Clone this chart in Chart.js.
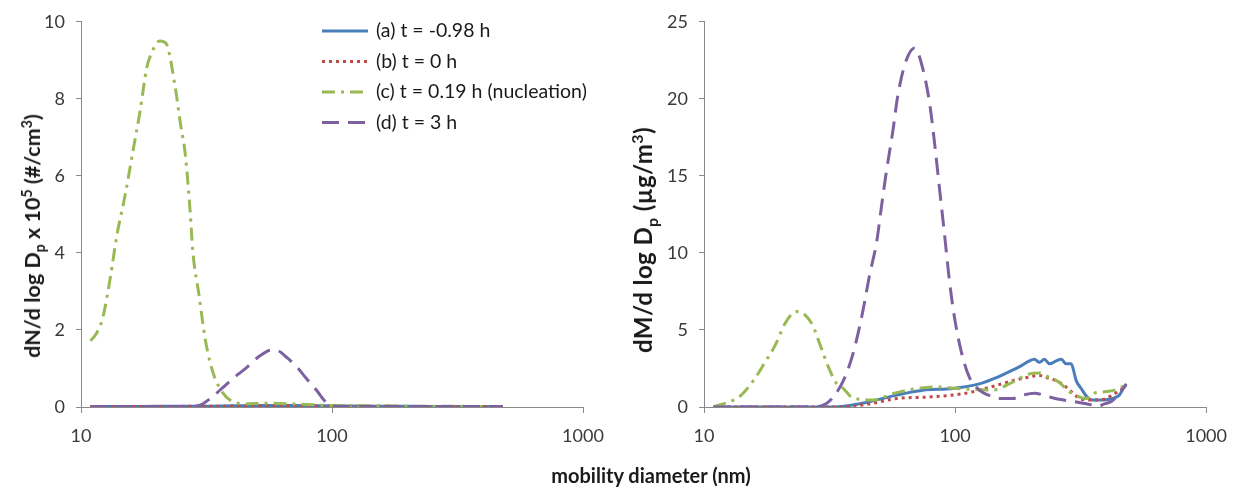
<!DOCTYPE html>
<html>
<head>
<meta charset="utf-8">
<script src="https://cdn.jsdelivr.net/npm/chart.js@4.4.1/dist/chart.umd.min.js"></script>
<style>
  body { margin: 0; background: #fff; }
  #wrap { position: relative; width: 1239px; height: 496px; font-family: Lato, "Open Sans", sans-serif; color: #1a1a1a; }
  #leftChart { position: absolute; left: 0; top: 0; }
  #rightChart { position: absolute; left: 620px; top: 0; }
  .ytitle { position: absolute; transform: translate(-50%, -50%) rotate(-90deg); white-space: nowrap; font-weight: bold; line-height: 22px; }
  .ytitle sub, .ytitle sup { font-size: 66%; line-height: 0; }
  #ytitleN { left: 32px; top: 236px; font-size: 21.5px; }
  #ytitleM { left: 643px; top: 240px; font-size: 24px; letter-spacing: 0.4px; }
  #xtitle { position: absolute; left: 651px; top: 475px; transform: translate(-50%, -50%); white-space: nowrap; font-weight: bold; font-size: 20px; }
</style>
</head>
<body>
<div id="wrap">
  <canvas id="leftChart" width="620" height="470"></canvas>
  <canvas id="rightChart" width="619" height="470"></canvas>
  <div class="ytitle" id="ytitleN">dN/d log D<sub>p</sub> x 10<sup>5</sup> (#/cm<sup>3</sup>)</div>
  <div class="ytitle" id="ytitleM">dM/d log D<sub>p</sub> (µg/m<sup>3</sup>)</div>
  <div id="xtitle">mobility diameter (nm)</div>
</div>
<script>
// series names
const seriesLabels = ["(a) t = -0.98 h", "(b) t = 0 h", "(c) t = 0.19 h (nucleation)", "(d) t = 3 h"];

// tick labels
const xTicks = [10, 100, 1000];
const yTicksN = [0, 2, 4, 6, 8, 10];
const yTicksM = [0, 5, 10, 15, 20, 25];

// number distribution, dN/dlogDp x 10^5 (#/cm3)
const nDiamA = [10.9, 15, 20, 30, 40, 50, 70, 100, 150, 200, 300, 400, 480];
const nA = [0.01, 0.01, 0.02, 0.02, 0.03, 0.04, 0.04, 0.03, 0.02, 0.02, 0.01, 0.01, 0.01];
const nDiamB = [10.9, 15, 20, 30, 40, 50, 70, 100, 150, 200, 300, 400, 480];
const nB = [0.01, 0.01, 0.01, 0.02, 0.02, 0.03, 0.03, 0.02, 0.02, 0.01, 0.01, 0.01, 0.0];
const nDiamC = [10.9, 11.5, 12.2, 13.1, 13.9, 15.0, 16.1, 17.2, 18.3, 19.3, 20.1, 20.6, 21.8, 23.7, 25.0, 26.0, 27.2, 27.9, 29.5, 31.2,
  32.7, 34.2, 36.8, 39.2, 45, 55, 70, 90, 120, 160, 220, 300, 400, 480];
const nC = [1.72, 1.9, 2.31, 3.38, 4.46, 5.51, 6.64, 7.69, 8.82, 9.25, 9.46, 9.5, 9.44, 8.33, 7.28, 6.59, 5.10, 4.03, 2.92, 1.79,
  1.15, 0.74, 0.36, 0.18, 0.08, 0.1, 0.08, 0.05, 0.03, 0.03, 0.02, 0.02, 0.01, 0.01];
const nDiamD = [10.9, 15, 20, 25, 27.2, 29.8, 33.3, 36.8, 40.3, 45.8, 51.6, 57.7, 61.0, 66.2, 72.6, 79.5, 87.1, 93.8, 100, 120,
  160, 220, 300, 400, 480];
const nD = [0.01, 0.01, 0.01, 0.01, 0.01, 0.05, 0.26, 0.51, 0.74, 1.03, 1.33, 1.48, 1.46, 1.28, 1.03, 0.72, 0.42, 0.15, 0.02, 0.01,
  0.01, 0.01, 0.01, 0.01, 0.01];

// mass distribution, dM/dlogDp (ug/m3)
const mDiamA = [10.9, 20, 31.7, 38.0, 45.7, 58.5, 74.3, 97.7, 125, 146, 160, 180, 198, 207, 217, 227, 238, 253, 265, 277,
  290, 304, 318, 336, 352, 386, 423, 451, 472, 480];
const mA = [0, 0, 0, 0.1, 0.34, 0.77, 1.09, 1.2, 1.5, 1.9, 2.2, 2.6, 3.0, 3.1, 2.9, 3.1, 2.8, 3.0, 3.1, 2.8,
  2.8, 1.7, 1.2, 0.65, 0.45, 0.45, 0.55, 0.77, 1.3, 1.4];
const mDiamB = [10.9, 20, 34.7, 45.7, 58.5, 79.2, 111, 125, 146, 169, 198, 217, 233, 253, 272, 290, 307, 333, 376, 423,
  455, 480];
const mB = [0, 0, 0, 0.2, 0.55, 0.65, 0.9, 1.1, 1.4, 1.7, 1.95, 2.05, 1.9, 1.7, 1.4, 1.0, 0.65, 0.45, 0.45, 0.77,
  1.1, 1.3];
const mDiamC = [10.9, 13.9, 15.7, 17.5, 19.2, 21.0, 22.6, 23.7, 25.2, 27.1, 28.9, 31.1, 33.8, 35.4, 39.1, 47.0, 57.4, 70.3, 85.2, 101,
  141, 169, 198, 217, 238, 260, 280, 299, 333, 359, 400, 451, 481];
const mC = [0, 0.7, 1.7, 2.9, 4.0, 5.4, 6.1, 6.2, 6.0, 5.3, 4.1, 2.7, 1.5, 1.3, 0.6, 0.45, 0.9, 1.2, 1.3, 1.2,
  1.1, 1.6, 2.15, 2.2, 1.9, 1.6, 1.1, 0.8, 0.55, 0.9, 1.0, 1.2, 1.5];
const mDiamD = [10.9, 20, 27, 29.7, 33.2, 37.0, 39.8, 42.9, 45.7, 48.7, 51.0, 53.4, 56.4, 59.0, 63.0, 69.0, 74.3, 79.2, 82.9, 86.8,
  90.8, 95.1, 99.5, 106.2, 114.2, 125.1, 134.6, 150.3, 169.4, 189, 207, 231, 260, 298.5, 336.5, 372, 393, 419, 447, 481];
const mD = [0, 0, 0, 0.1, 0.77, 2.2, 3.85, 6.2, 8.6, 10.7, 13.1, 15.4, 17.8, 20.1, 22.2, 23.3, 22.0, 19.7, 17.1, 14.1,
  11.2, 8.1, 5.8, 3.5, 1.9, 1.1, 0.8, 0.55, 0.55, 0.8, 0.9, 0.7, 0.5, 0.35, 0.2, 0.05, 0.2, 0.35, 0.8, 1.5];

// line styles per series (a, b, c, d)
const seriesColors = ["#4A7EBB", "#BE4B48", "#98B954", "#7D60A0"];
const seriesDash = [[], [3, 4], [13, 6, 3, 6], [17, 9]];

const axisColor = "#898989";
const tickColor = "#3a3a3a";
const fontFamily = "Lato, 'Open Sans', sans-serif";

function pts(diam, vals) {
  return diam.map((d, i) => ({ x: d, y: vals[i] }));
}

function makeDatasets(series) {
  return series.map((s, i) => ({
    label: seriesLabels[i],
    data: pts(s[0], s[1]),
    borderColor: seriesColors[i],
    borderDash: seriesDash[i],
    borderWidth: 3,
    pointRadius: 0,
    fill: false,
    cubicInterpolationMode: "monotone",
    order: 4 - i // (d) drawn on top like Excel
  }));
}

// legend drawn inside the left plot
const legendRows = [31, 61.5, 92, 122.5];
const legendBox = {
  id: "legendBox",
  afterDraw(chart) {
    const ctx = chart.ctx;
    ctx.save();
    chart.data.datasets.forEach((ds, i) => {
      const y = legendRows[i];
      ctx.strokeStyle = ds.borderColor;
      ctx.lineWidth = 3;
      ctx.setLineDash(ds.borderDash);
      ctx.beginPath();
      ctx.moveTo(322, y);
      ctx.lineTo(368, y);
      ctx.stroke();
      ctx.setLineDash([]);
      ctx.fillStyle = "#1a1a1a";
      ctx.font = "19.5px " + fontFamily;
      ctx.textBaseline = "middle";
      ctx.fillText(ds.label, 376, y);
    });
    ctx.restore();
  }
};

function makeOptions(yTicks, yWidth, padRight) {
  return {
    responsive: false,
    animation: false,
    layout: { padding: { left: 0, right: padRight, top: 17, bottom: 0 } },
    plugins: { legend: { display: false }, tooltip: { enabled: false } },
    scales: {
      x: {
        type: "logarithmic",
        min: xTicks[0],
        max: xTicks[xTicks.length - 1],
        afterBuildTicks: s => { s.ticks = xTicks.map(v => ({ value: v })); },
        afterFit: s => { s.height = 63; },
        ticks: {
          callback: v => String(v),
          autoSkip: false,
          maxRotation: 0,
          padding: 12,
          color: tickColor,
          font: { family: fontFamily, size: 18 }
        },
        grid: { drawOnChartArea: false, drawTicks: true, tickLength: 6, color: axisColor },
        border: { color: axisColor, width: 1 }
      },
      y: {
        min: yTicks[0],
        max: yTicks[yTicks.length - 1],
        afterBuildTicks: s => { s.ticks = yTicks.map(v => ({ value: v })); },
        afterFit: s => { s.width = yWidth; },
        ticks: {
          padding: 11,
          color: tickColor,
          font: { family: fontFamily, size: 18 }
        },
        grid: { drawOnChartArea: false, drawTicks: true, tickLength: 5, color: axisColor },
        border: { color: axisColor, width: 1 }
      }
    }
  };
}

new Chart(document.getElementById("leftChart"), {
  type: "line",
  data: {
    datasets: makeDatasets([[nDiamA, nA], [nDiamB, nB], [nDiamC, nC], [nDiamD, nD]])
  },
  options: makeOptions(yTicksN, 81, 37),
  plugins: [legendBox]
});

new Chart(document.getElementById("rightChart"), {
  type: "line",
  data: {
    datasets: makeDatasets([[mDiamA, mA], [mDiamB, mB], [mDiamC, mC], [mDiamD, mD]])
  },
  options: makeOptions(yTicksM, 84, 32)
});
</script>
</body>
</html>
